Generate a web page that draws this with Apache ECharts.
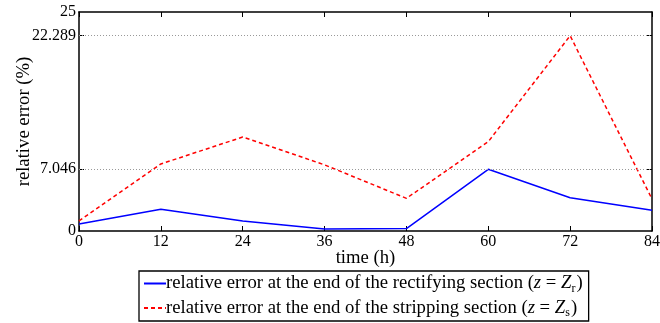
<!DOCTYPE html>
<html><head><meta charset="utf-8">
<script src="https://cdn.jsdelivr.net/npm/echarts@6/dist/echarts.min.js"></script>
<style>html,body{margin:0;padding:0;background:#fff}#c{width:660px;height:323px}</style>
</head><body><div id="c"></div>
<script>
const times = [0, 12, 24, 36, 48, 60, 72, 84];
const rectifying = [0.8, 2.48, 1.14, 0.22, 0.28, 7.046, 3.8, 2.36];
const stripping = [1.15, 7.65, 10.73, 7.55, 3.73, 10.2, 22.289, 3.65];
const yLabelValues = [0, 7.046, 22.289, 25];
const yTickValues = [7.046, 22.289];
const seriesNames = ['rectifying', 'stripping'];
const seriesSubs = ['r', 's'];

const FONT = 'Liberation Serif';
const TXT = 18.7;
const chart = echarts.init(document.getElementById('c'));
const pairs = arr => times.map((t, i) => [t, arr[i]]);
const frame = {lineStyle: {color: '#000', width: 1.5}};
chart.setOption({
  animation: false,
  textStyle: {fontFamily: FONT, color: '#000'},
  grid: {left: 79, right: 8, top: 12, bottom: 92, containLabel: false, outerBoundsMode: 'none'},
  xAxis: [
    {type: 'value', min: 0, max: 84, interval: 12, position: 'bottom',
     name: 'time (h)', nameLocation: 'middle', nameGap: 18, nameMoveOverlap: false,
     nameTextStyle: {fontFamily: FONT, fontSize: TXT, color: '#000'},
     axisLine: {show: true, onZero: false, ...frame},
     axisTick: {show: true, inside: true, length: 5, lineStyle: {color: '#000', width: 1}},
     axisLabel: {fontFamily: FONT, fontSize: 16, color: '#000', margin: 3},
     splitLine: {show: false}},
    {type: 'value', min: 0, max: 84, interval: 12, position: 'top',
     axisLine: {show: true, onZero: false, ...frame},
     axisTick: {show: true, inside: true, length: 5, lineStyle: {color: '#000', width: 1}},
     axisLabel: {show: false}, splitLine: {show: false}}
  ],
  yAxis: [
    {type: 'value', min: 0, max: 25, position: 'left',
     name: 'relative error (%)', nameLocation: 'middle', nameGap: 45, nameMoveOverlap: false,
     nameTextStyle: {fontFamily: FONT, fontSize: TXT, color: '#000'},
     axisLine: {show: true, onZero: false, ...frame},
     axisTick: {show: true, inside: true, length: 5, customValues: yTickValues, lineStyle: {color: '#000', width: 1}},
     axisLabel: {fontFamily: FONT, fontSize: 16, color: '#000', margin: 3, customValues: yLabelValues,
                 formatter: v => String(v)},
     splitLine: {show: false}},
    {type: 'value', min: 0, max: 25, position: 'right',
     axisLine: {show: true, onZero: false, ...frame},
     axisTick: {show: true, inside: true, length: 5, customValues: yTickValues, lineStyle: {color: '#000', width: 1}},
     axisLabel: {show: false}, splitLine: {show: false}}
  ],
  legend: {
    orient: 'vertical', left: 139, top: 271,
    borderColor: '#000', borderWidth: 1.3, borderRadius: 0,
    padding: [3, 6, 2, 4], itemGap: 4, itemWidth: 22, itemHeight: 14,
    itemStyle: {opacity: 0},
    data: ['rectifying', 'stripping'],
    formatter: name => {
      const i = seriesNames.indexOf(name);
      return '{t|relative error at the end of the ' + (i === 0 ? 'rectifying' : 'stripping') +
        ' section (}{i|z}{t| = }{i|Z}{s|' + seriesSubs[i] + '}{t|)}';
    },
    textStyle: {
      padding: [0, 0, 0, -5],
      rich: {
        t: {fontFamily: FONT, fontSize: TXT, color: '#000', lineHeight: 22},
        i: {fontFamily: FONT, fontSize: TXT, fontStyle: 'italic', color: '#000', lineHeight: 22},
        s: {fontFamily: FONT, fontSize: 12, color: '#000', lineHeight: 22, verticalAlign: 'bottom', padding: [7, 1, 0, 0]}
      }
    }
  },
  series: [
    {name: 'rectifying', type: 'line', data: pairs(rectifying), symbol: 'none',
     lineStyle: {color: '#0000ff', width: 1.5}, itemStyle: {color: '#0000ff'},
     markLine: {silent: true, symbol: 'none', label: {show: false},
       lineStyle: {color: '#999', type: [1, 2], width: 1},
       data: yTickValues.map(v => ({yAxis: v}))}},
    {name: 'stripping', type: 'line', data: pairs(stripping), symbol: 'none',
     lineStyle: {color: '#ff0000', width: 1.5, type: [4, 3]}, itemStyle: {color: '#ff0000'}}
  ]
});
</script></body></html>
